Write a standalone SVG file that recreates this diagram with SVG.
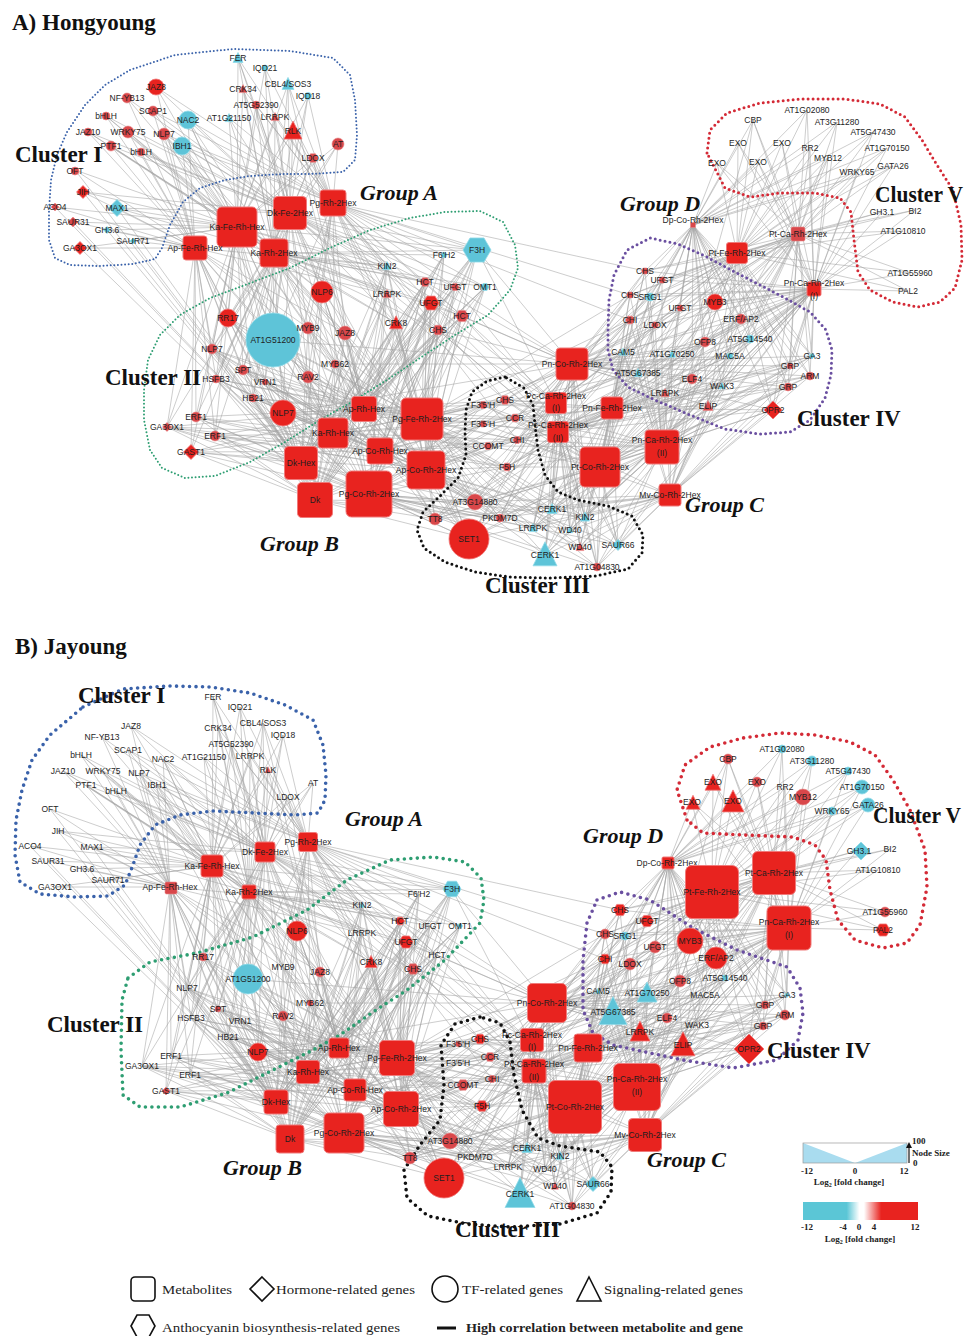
<svg xmlns="http://www.w3.org/2000/svg" xmlns:xlink="http://www.w3.org/1999/xlink" width="965" height="1336" viewBox="0 0 965 1336">
<style>
.e{fill:none;stroke:#a4a4a4;stroke-width:.55}
.m{fill:#e8231f;stroke:#f07a7a;stroke-width:1}
.r{fill:#e8231f;stroke:#f07a7a;stroke-width:.8}
.p{fill:#d9474a;stroke:#e98a8a;stroke-width:.6}
.b{fill:#5ec4d8;stroke:#93dbe8;stroke-width:.8}
.t{font-family:"Liberation Sans",Arial,sans-serif;font-size:8.5px;fill:#1e1e1e;text-anchor:middle}
.cl{font-family:"Liberation Serif","Times New Roman",serif;font-weight:bold;font-size:23px;fill:#111}
.gr{font-family:"Liberation Serif","Times New Roman",serif;font-style:italic;font-weight:bold;font-size:22px;fill:#111}
.ti{font-family:"Liberation Serif","Times New Roman",serif;font-weight:bold;font-size:23px;fill:#111}
.lg{font-family:"Liberation Serif","Times New Roman",serif;font-size:13px;fill:#222}
.ls{font-family:"Liberation Serif","Times New Roman",serif;font-weight:bold;font-size:9px;fill:#222}
.o{fill:none;stroke-linecap:round;stroke-linejoin:round}
.ob{stroke:#3a62aa}.og{stroke:#2e9e72}.ok{stroke:#111}.op{stroke:#6a4fa0}.or{stroke:#d42a36}
.thin{stroke-width:2;stroke-dasharray:0 3.6}
.med{stroke-width:3;stroke-dasharray:0 5}
.thick{stroke-width:3.6;stroke-dasharray:0 6.5}
</style>
<defs>
<path id="tri" d="M0-.55L.5.45H-.5Z" vector-effect="non-scaling-stroke"/>
<path id="dia" d="M0-.5L.5 0 0 .5-.5 0Z" vector-effect="non-scaling-stroke"/>
<path id="hex" d="M-.5 0-.25-.43H.25L.5 0 .25.43H-.25Z" vector-effect="non-scaling-stroke"/>
<rect id="sq" x="-.5" y="-.5" width="1" height="1" rx=".12" vector-effect="non-scaling-stroke"/>
<linearGradient id="cbar" x1="0" x2="1" y1="0" y2="0">
<stop offset="0" stop-color="#5bc6d6"/><stop offset=".38" stop-color="#5bc6d6"/><stop offset=".49" stop-color="#ffffff"/><stop offset=".53" stop-color="#ffffff"/><stop offset=".68" stop-color="#e8231f"/><stop offset="1" stop-color="#e8231f"/>
</linearGradient>
<marker id="arr" viewBox="0 0 6 6" refX="3" refY="3" markerWidth="5" markerHeight="5" orient="auto"><path d="M0 0L6 3 0 6Z" fill="#111"/></marker>
</defs>
<rect width="965" height="1336" fill="#fff"/>

<g id="connectors" class="e">
<g id="edgesA">
<path d="M237 227 238 58M237 227 265 68M237 227 288 84M237 227 243 89M237 227 308 96M237 227 256 105M237 227 275 117M237 227 293 131M237 227 338 144M237 227 313 158M237 227 229 118M237 227 188 120M237 227 182 146M237 227 156 87M237 227 127 98M237 227 153 111M237 227 106 116M237 227 88 132M237 227 128 132M237 227 164 134M237 227 111 146M237 227 141 152M237 227 75 170M237 227 83 192M237 227 55 207M237 227 117 208M237 227 73 222M237 227 107 230M237 227 133 241M237 227 80 248M237 227 322 292M237 227 228 318M237 227 273 340M237 227 308 328M237 227 345 333M237 227 212 349M237 227 335 364M237 227 243 370M237 227 308 377M237 227 216 379M237 227 265 382M237 227 253 398M237 227 283 413M237 227 196 417M237 227 167 427M237 227 215 436M237 227 191 452M237 227 477 250M237 227 387 266M237 227 425 282M237 227 387 294M237 227 396 323"/>
<path d="M290 213 238 58M290 213 265 68M290 213 288 84M290 213 243 89M290 213 308 96M290 213 256 105M290 213 275 117M290 213 293 131M290 213 338 144M290 213 313 158M290 213 229 118M290 213 188 120M290 213 182 146M290 213 156 87M290 213 127 98M290 213 153 111M290 213 106 116M290 213 88 132M290 213 128 132M290 213 164 134M290 213 111 146M290 213 141 152M290 213 83 192M290 213 117 208M290 213 477 250M290 213 444 255M290 213 387 266M290 213 425 282M290 213 455 287M290 213 485 287M290 213 387 294M290 213 431 303M290 213 462 316M290 213 396 323M290 213 438 330M290 213 322 292M290 213 228 318M290 213 273 340M290 213 308 328M290 213 345 333M290 213 212 349M290 213 335 364M290 213 243 370M290 213 308 377M290 213 216 379M290 213 265 382M290 213 253 398M290 213 283 413M290 213 505 400M290 213 469 539"/>
<path d="M333 203 238 58M333 203 265 68M333 203 288 84M333 203 243 89M333 203 308 96M333 203 256 105M333 203 275 117M333 203 293 131M333 203 338 144M333 203 313 158M333 203 229 118M333 203 188 120M333 203 182 146M333 203 156 87M333 203 153 111M333 203 164 134M333 203 477 250M333 203 444 255M333 203 387 266M333 203 425 282M333 203 455 287M333 203 485 287M333 203 387 294M333 203 431 303M333 203 462 316M333 203 396 323M333 203 438 330M333 203 322 292M333 203 273 340M333 203 308 328M333 203 345 333M333 203 335 364M333 203 308 377M333 203 283 413M333 203 505 400M333 203 517 440M333 203 475 502M333 203 469 539M333 203 645 271M333 203 630 295M333 203 630 320"/>
<path d="M195 248 188 120M195 248 182 146M195 248 156 87M195 248 127 98M195 248 153 111M195 248 106 116M195 248 88 132M195 248 128 132M195 248 164 134M195 248 111 146M195 248 141 152M195 248 75 170M195 248 83 192M195 248 55 207M195 248 117 208M195 248 73 222M195 248 107 230M195 248 133 241M195 248 80 248M195 248 228 318M195 248 273 340M195 248 308 328M195 248 345 333M195 248 212 349M195 248 335 364M195 248 243 370M195 248 308 377M195 248 216 379M195 248 265 382M195 248 253 398M195 248 283 413M195 248 196 417M195 248 167 427M195 248 215 436M195 248 191 452M195 248 387 266M195 248 387 294"/>
<path d="M274 253 238 58M274 253 265 68M274 253 288 84M274 253 243 89M274 253 308 96M274 253 256 105M274 253 275 117M274 253 293 131M274 253 338 144M274 253 313 158M274 253 229 118M274 253 188 120M274 253 182 146M274 253 106 116M274 253 88 132M274 253 128 132M274 253 164 134M274 253 111 146M274 253 141 152M274 253 117 208M274 253 477 250M274 253 444 255M274 253 387 266M274 253 425 282M274 253 455 287M274 253 485 287M274 253 387 294M274 253 431 303M274 253 462 316M274 253 396 323M274 253 438 330M274 253 322 292M274 253 228 318M274 253 273 340M274 253 308 328M274 253 345 333M274 253 212 349M274 253 335 364M274 253 243 370M274 253 308 377M274 253 216 379M274 253 265 382M274 253 253 398M274 253 283 413M274 253 196 417M274 253 167 427M274 253 215 436M274 253 191 452M274 253 475 502M274 253 435 519M274 253 500 518M274 253 469 539"/>
<path d="M364 409 477 250M364 409 444 255M364 409 387 266M364 409 425 282M364 409 455 287M364 409 485 287M364 409 387 294M364 409 431 303M364 409 462 316M364 409 396 323M364 409 438 330M364 409 322 292M364 409 228 318M364 409 273 340M364 409 308 328M364 409 345 333M364 409 212 349M364 409 335 364M364 409 243 370M364 409 308 377M364 409 216 379M364 409 265 382M364 409 253 398M364 409 283 413M364 409 196 417M364 409 167 427M364 409 215 436M364 409 191 452M364 409 483 405M364 409 505 400M364 409 483 424M364 409 515 418M364 409 517 440M364 409 488 446M364 409 507 467M364 409 475 502M364 409 435 519M364 409 500 518M364 409 469 539M364 409 238 58M364 409 288 84M364 409 293 131M364 409 313 158"/>
<path d="M422 419 477 250M422 419 444 255M422 419 387 266M422 419 425 282M422 419 455 287M422 419 485 287M422 419 387 294M422 419 431 303M422 419 462 316M422 419 396 323M422 419 438 330M422 419 322 292M422 419 228 318M422 419 273 340M422 419 308 328M422 419 345 333M422 419 212 349M422 419 335 364M422 419 243 370M422 419 308 377M422 419 216 379M422 419 265 382M422 419 253 398M422 419 283 413M422 419 483 405M422 419 505 400M422 419 483 424M422 419 515 418M422 419 517 440M422 419 488 446M422 419 507 467M422 419 475 502M422 419 435 519M422 419 500 518M422 419 469 539M422 419 552 509M422 419 585 517M422 419 533 528M422 419 570 530M422 419 580 547M422 419 545 555M422 419 618 545M422 419 597 567M422 419 630 295M422 419 630 320M422 419 623 352M422 419 638 373"/>
<path d="M333 433 228 318M333 433 273 340M333 433 308 328M333 433 345 333M333 433 212 349M333 433 335 364M333 433 243 370M333 433 308 377M333 433 216 379M333 433 265 382M333 433 253 398M333 433 283 413M333 433 196 417M333 433 167 427M333 433 215 436M333 433 191 452M333 433 477 250M333 433 444 255M333 433 387 266M333 433 425 282M333 433 455 287M333 433 485 287M333 433 387 294M333 433 431 303M333 433 462 316M333 433 396 323M333 433 438 330M333 433 483 405M333 433 505 400M333 433 483 424M333 433 515 418M333 433 517 440M333 433 488 446M333 433 507 467M333 433 475 502M333 433 188 120M333 433 182 146M333 433 164 134"/>
<path d="M380 451 322 292M380 451 228 318M380 451 273 340M380 451 308 328M380 451 345 333M380 451 212 349M380 451 335 364M380 451 243 370M380 451 308 377M380 451 216 379M380 451 265 382M380 451 253 398M380 451 283 413M380 451 196 417M380 451 167 427M380 451 215 436M380 451 191 452M380 451 483 405M380 451 505 400M380 451 483 424M380 451 515 418M380 451 517 440M380 451 488 446M380 451 507 467M380 451 475 502M380 451 435 519M380 451 500 518M380 451 469 539M380 451 477 250M380 451 425 282M380 451 431 303M380 451 438 330"/>
<path d="M301 463 322 292M301 463 228 318M301 463 273 340M301 463 308 328M301 463 345 333M301 463 212 349M301 463 335 364M301 463 243 370M301 463 308 377M301 463 216 379M301 463 265 382M301 463 253 398M301 463 283 413M301 463 196 417M301 463 167 427M301 463 215 436M301 463 191 452M301 463 477 250M301 463 444 255M301 463 387 266M301 463 425 282M301 463 455 287M301 463 485 287M301 463 387 294M301 463 431 303M301 463 462 316M301 463 396 323M301 463 438 330M301 463 475 502M301 463 435 519M301 463 500 518M301 463 469 539M301 463 75 170M301 463 83 192M301 463 55 207M301 463 117 208M301 463 73 222M301 463 107 230M301 463 133 241M301 463 80 248"/>
<path d="M426 470 477 250M426 470 444 255M426 470 387 266M426 470 425 282M426 470 455 287M426 470 485 287M426 470 387 294M426 470 431 303M426 470 462 316M426 470 396 323M426 470 438 330M426 470 273 340M426 470 308 328M426 470 345 333M426 470 212 349M426 470 335 364M426 470 243 370M426 470 308 377M426 470 216 379M426 470 265 382M426 470 253 398M426 470 283 413M426 470 196 417M426 470 167 427M426 470 215 436M426 470 191 452M426 470 483 405M426 470 505 400M426 470 483 424M426 470 515 418M426 470 517 440M426 470 488 446M426 470 507 467M426 470 475 502M426 470 435 519M426 470 500 518M426 470 469 539M426 470 552 509M426 470 585 517M426 470 533 528M426 470 570 530M426 470 580 547M426 470 545 555M426 470 618 545M426 470 597 567"/>
<path d="M315 500 322 292M315 500 228 318M315 500 273 340M315 500 308 328M315 500 345 333M315 500 212 349M315 500 335 364M315 500 243 370M315 500 308 377M315 500 216 379M315 500 265 382M315 500 253 398M315 500 283 413M315 500 196 417M315 500 167 427M315 500 215 436M315 500 191 452M315 500 477 250M315 500 444 255M315 500 387 266M315 500 425 282M315 500 455 287M315 500 485 287M315 500 387 294M315 500 431 303M315 500 462 316M315 500 396 323M315 500 438 330M315 500 475 502M315 500 435 519M315 500 500 518M315 500 469 539M315 500 483 405M315 500 483 424M315 500 488 446"/>
<path d="M369 494 322 292M369 494 228 318M369 494 273 340M369 494 308 328M369 494 345 333M369 494 212 349M369 494 335 364M369 494 243 370M369 494 308 377M369 494 216 379M369 494 265 382M369 494 253 398M369 494 283 413M369 494 196 417M369 494 167 427M369 494 215 436M369 494 191 452M369 494 477 250M369 494 444 255M369 494 387 266M369 494 425 282M369 494 455 287M369 494 485 287M369 494 387 294M369 494 431 303M369 494 462 316M369 494 396 323M369 494 438 330M369 494 483 405M369 494 505 400M369 494 483 424M369 494 515 418M369 494 517 440M369 494 488 446M369 494 507 467M369 494 475 502M369 494 435 519M369 494 500 518M369 494 469 539M369 494 552 509M369 494 585 517M369 494 533 528M369 494 570 530M369 494 580 547M369 494 545 555M369 494 618 545M369 494 597 567"/>
<path d="M572 364 477 250M572 364 425 282M572 364 455 287M572 364 431 303M572 364 462 316M572 364 438 330M572 364 483 405M572 364 505 400M572 364 483 424M572 364 515 418M572 364 517 440M572 364 488 446M572 364 507 467M572 364 475 502M572 364 435 519M572 364 500 518M572 364 469 539M572 364 552 509M572 364 585 517M572 364 533 528M572 364 570 530M572 364 580 547M572 364 545 555M572 364 618 545M572 364 597 567M572 364 645 271M572 364 662 280M572 364 630 295M572 364 650 297M572 364 680 308M572 364 715 302M572 364 630 320M572 364 655 325M572 364 741 319M572 364 705 342M572 364 750 339M572 364 623 352M572 364 672 354M572 364 730 356M572 364 812 356M572 364 790 366M572 364 810 376M572 364 638 373M572 364 692 379M572 364 722 386M572 364 788 387M572 364 665 393M572 364 708 406M572 364 773 410M572 364 273 340M572 364 335 364M572 364 283 413"/>
<path d="M556 403 483 405M556 403 505 400M556 403 483 424M556 403 515 418M556 403 517 440M556 403 488 446M556 403 507 467M556 403 475 502M556 403 435 519M556 403 500 518M556 403 469 539M556 403 552 509M556 403 585 517M556 403 533 528M556 403 570 530M556 403 580 547M556 403 545 555M556 403 618 545M556 403 597 567M556 403 645 271M556 403 662 280M556 403 630 295M556 403 650 297M556 403 680 308M556 403 715 302M556 403 630 320M556 403 655 325M556 403 741 319M556 403 705 342M556 403 750 339M556 403 623 352M556 403 672 354M556 403 477 250M556 403 425 282M556 403 431 303M556 403 438 330"/>
<path d="M558 432 483 405M558 432 505 400M558 432 483 424M558 432 515 418M558 432 517 440M558 432 488 446M558 432 507 467M558 432 475 502M558 432 435 519M558 432 500 518M558 432 469 539M558 432 552 509M558 432 585 517M558 432 533 528M558 432 570 530M558 432 580 547M558 432 545 555M558 432 618 545M558 432 597 567M558 432 630 320M558 432 655 325M558 432 741 319M558 432 705 342M558 432 750 339M558 432 623 352M558 432 672 354M558 432 730 356M558 432 812 356M558 432 790 366M558 432 810 376M558 432 638 373M558 432 692 379M558 432 722 386M558 432 788 387M558 432 665 393M558 432 708 406M558 432 773 410M558 432 431 303M558 432 438 330"/>
<path d="M612 408 483 405M612 408 505 400M612 408 483 424M612 408 515 418M612 408 517 440M612 408 488 446M612 408 507 467M612 408 475 502M612 408 435 519M612 408 500 518M612 408 469 539M612 408 552 509M612 408 585 517M612 408 533 528M612 408 570 530M612 408 580 547M612 408 545 555M612 408 618 545M612 408 597 567M612 408 645 271M612 408 662 280M612 408 630 295M612 408 650 297M612 408 680 308M612 408 715 302M612 408 630 320M612 408 655 325M612 408 741 319M612 408 705 342M612 408 750 339M612 408 623 352M612 408 672 354M612 408 730 356M612 408 812 356M612 408 790 366M612 408 810 376M612 408 638 373M612 408 692 379M612 408 722 386M612 408 788 387M612 408 665 393M612 408 708 406M612 408 773 410"/>
<path d="M600 467 483 405M600 467 505 400M600 467 483 424M600 467 515 418M600 467 517 440M600 467 488 446M600 467 507 467M600 467 475 502M600 467 435 519M600 467 500 518M600 467 469 539M600 467 552 509M600 467 585 517M600 467 533 528M600 467 570 530M600 467 580 547M600 467 545 555M600 467 618 545M600 467 597 567M600 467 645 271M600 467 662 280M600 467 630 295M600 467 650 297M600 467 680 308M600 467 715 302M600 467 630 320M600 467 655 325M600 467 741 319M600 467 705 342M600 467 750 339M600 467 623 352M600 467 672 354M600 467 730 356M600 467 812 356M600 467 790 366M600 467 810 376M600 467 638 373M600 467 692 379M600 467 722 386M600 467 788 387M600 467 665 393M600 467 708 406M600 467 773 410M600 467 455 287M600 467 462 316M600 467 438 330"/>
<path d="M662 447 505 400M662 447 483 424M662 447 515 418M662 447 517 440M662 447 488 446M662 447 507 467M662 447 475 502M662 447 435 519M662 447 500 518M662 447 469 539M662 447 552 509M662 447 585 517M662 447 533 528M662 447 570 530M662 447 580 547M662 447 545 555M662 447 618 545M662 447 597 567M662 447 645 271M662 447 662 280M662 447 630 295M662 447 650 297M662 447 680 308M662 447 715 302M662 447 630 320M662 447 655 325M662 447 741 319M662 447 705 342M662 447 750 339M662 447 623 352M662 447 672 354M662 447 730 356M662 447 812 356M662 447 790 366M662 447 810 376M662 447 638 373M662 447 692 379M662 447 722 386M662 447 788 387M662 447 665 393M662 447 708 406M662 447 773 410M662 447 753 120M662 447 828 158"/>
<path d="M670 495 475 502M670 495 435 519M670 495 500 518M670 495 469 539M670 495 552 509M670 495 585 517M670 495 533 528M670 495 570 530M670 495 580 547M670 495 545 555M670 495 618 545M670 495 597 567M670 495 741 319M670 495 705 342M670 495 750 339M670 495 623 352M670 495 672 354M670 495 730 356M670 495 812 356M670 495 790 366M670 495 810 376M670 495 638 373M670 495 692 379M670 495 722 386M670 495 788 387M670 495 665 393M670 495 708 406M670 495 773 410M670 495 483 405M670 495 517 440"/>
<path d="M693 225 807 110M693 225 753 120M693 225 837 122M693 225 873 132M693 225 738 143M693 225 782 143M693 225 810 148M693 225 887 148M693 225 828 158M693 225 717 163M693 225 758 162M693 225 893 166M693 225 857 172M693 225 645 271M693 225 662 280M693 225 630 295M693 225 650 297M693 225 680 308M693 225 715 302M693 225 630 320M693 225 655 325M693 225 741 319M693 225 705 342M693 225 750 339M693 225 623 352M693 225 672 354M693 225 730 356M693 225 812 356M693 225 790 366M693 225 810 376M693 225 638 373M693 225 692 379M693 225 722 386M693 225 788 387M693 225 665 393M693 225 708 406M693 225 773 410"/>
<path d="M737 253 807 110M737 253 753 120M737 253 837 122M737 253 873 132M737 253 738 143M737 253 782 143M737 253 810 148M737 253 887 148M737 253 828 158M737 253 717 163M737 253 758 162M737 253 893 166M737 253 857 172M737 253 882 212M737 253 915 210M737 253 903 231M737 253 910 273M737 253 908 291M737 253 645 271M737 253 662 280M737 253 630 295M737 253 650 297M737 253 680 308M737 253 715 302M737 253 630 320M737 253 655 325M737 253 741 319M737 253 705 342M737 253 750 339M737 253 623 352M737 253 672 354M737 253 730 356M737 253 812 356M737 253 790 366M737 253 810 376M737 253 638 373M737 253 692 379M737 253 722 386M737 253 788 387M737 253 665 393M737 253 708 406M737 253 773 410M737 253 505 400M737 253 515 418"/>
<path d="M798 234 807 110M798 234 753 120M798 234 837 122M798 234 873 132M798 234 738 143M798 234 782 143M798 234 810 148M798 234 887 148M798 234 828 158M798 234 717 163M798 234 758 162M798 234 893 166M798 234 857 172M798 234 882 212M798 234 915 210M798 234 903 231M798 234 910 273M798 234 908 291M798 234 645 271M798 234 662 280M798 234 630 295M798 234 650 297M798 234 680 308M798 234 715 302M798 234 630 320M798 234 655 325M798 234 741 319M798 234 705 342M798 234 750 339M798 234 623 352M798 234 672 354M798 234 730 356M798 234 812 356M798 234 790 366M798 234 810 376M798 234 638 373M798 234 692 379M798 234 722 386M798 234 788 387M798 234 665 393M798 234 708 406M798 234 773 410"/>
<path d="M814 289 807 110M814 289 753 120M814 289 837 122M814 289 873 132M814 289 738 143M814 289 782 143M814 289 810 148M814 289 887 148M814 289 828 158M814 289 717 163M814 289 758 162M814 289 893 166M814 289 857 172M814 289 882 212M814 289 915 210M814 289 903 231M814 289 910 273M814 289 908 291M814 289 645 271M814 289 662 280M814 289 630 295M814 289 650 297M814 289 680 308M814 289 715 302M814 289 630 320M814 289 655 325M814 289 741 319M814 289 705 342M814 289 750 339M814 289 623 352M814 289 672 354M814 289 730 356M814 289 812 356M814 289 790 366M814 289 810 376M814 289 638 373M814 289 692 379M814 289 722 386M814 289 788 387M814 289 665 393M814 289 708 406M814 289 773 410M814 289 517 440M814 289 507 467M814 289 552 509M814 289 585 517M814 289 533 528M814 289 570 530M814 289 580 547M814 289 545 555M814 289 618 545M814 289 597 567"/>
</g>
<use href="#edgesA" xlink:href="#edgesA" transform="translate(-25 639)"/>
</g>

<g id="outlines">
<polygon class="o ob thin" points="130,70 175,55 233,49 290,51 333,58 350,75 355,100 357,135 355,160 343,172 310,174 283,174 250,176 225,180 200,188 183,202 170,225 162,248 155,259 133,264 100,266 70,265 55,258 49,240 49,210 51,180 57,155 67,132 85,105 105,85"/>
<polygon class="o og thin" points="150,450 144,420 144,390 148,360 160,335 180,315 210,298 245,285 290,268 330,248 370,230 410,218 445,212 480,211 503,222 515,245 518,268 510,290 488,315 455,335 420,358 390,378 355,400 320,420 285,442 250,462 215,476 185,478 162,468"/>
<polygon class="o ok med" points="505,377 487,381 472,392 466,410 465,432 466,455 458,478 440,496 423,512 417,530 424,548 445,562 475,572 510,577 550,578 595,576 628,569 642,553 643,535 632,516 608,506 578,500 558,492 545,475 538,450 535,425 533,405 524,388"/>
<polygon class="o op med" points="608,330 609,300 614,275 627,250 650,238 678,244 705,256 733,271 760,285 785,298 810,312 826,330 832,350 831,375 825,398 810,420 790,432 760,434 725,429 690,415 655,400 628,387 613,370 608,350"/>
<polygon class="o or med" points="707,153 710,130 727,113 760,103 800,99 845,99 880,104 905,117 922,140 937,165 953,190 961,225 962,260 955,288 940,302 918,307 893,302 870,290 858,272 854,240 851,212 840,198 815,193 780,193 750,197 725,188"/>
<polygon class="o ob thick" points="83,707 123,689 170,686 210,687 250,693 285,705 313,720 323,745 326,775 325,800 318,813 295,815 255,813 213,811 180,815 155,825 140,845 133,865 125,885 108,896 75,897 40,894 20,882 15,855 16,820 22,790 32,760 50,735"/>
<polygon class="o og thick" points="128,978 150,962 197,953 253,937 307,910 347,880 390,860 433,857 465,862 481,878 484,900 480,923 445,960 407,990 373,1012 340,1035 313,1050 273,1070 227,1093 180,1107 140,1107 123,1095 121,1050 122,1000"/>
<polygon class="o ok thick" points="480,1017 455,1024 441,1045 444,1085 440,1120 420,1145 404,1170 407,1198 428,1216 467,1224 510,1227 560,1224 597,1213 611,1192 612,1167 600,1152 560,1146 538,1138 522,1110 514,1075 510,1042 500,1023"/>
<polygon class="o op thick" points="597,900 620,892 650,900 693,928 737,950 787,967 800,988 803,1013 798,1040 777,1060 733,1068 683,1060 650,1053 613,1045 593,1033 583,1010 583,960 587,923"/>
<polygon class="o or thick" points="687,820 677,790 685,765 710,747 743,738 780,733 815,735 850,742 875,755 893,780 910,810 925,850 927,887 920,925 907,943 883,948 855,940 838,920 830,890 826,860 815,845 793,837 743,835 703,833"/>
</g>

<g id="panelA" class="t">
<g id="a-FER"><use href="#tri" class="b" transform="translate(238 58) scale(10)"/><text x="238" y="61">FER</text></g>
<g id="a-IQD21"><circle class="b" cx="265" cy="68" r="3"/><text x="265" y="71">IQD21</text></g>
<g id="a-CBL4SOS3"><use href="#tri" class="b" transform="translate(288 84) scale(12)"/><text x="288" y="87">CBL4/SOS3</text></g>
<g id="a-CRK34"><use href="#tri" class="p" transform="translate(243 89) scale(8)"/><text x="243" y="92">CRK34</text></g>
<g id="a-IQD18"><circle class="b" cx="308" cy="96" r="3.5"/><text x="308" y="99">IQD18</text></g>
<g id="a-AT5G52390"><circle class="p" cx="256" cy="105" r="4"/><text x="256" y="108">AT5G52390</text></g>
<g id="a-LRRPK-1"><use href="#tri" class="p" transform="translate(275 117) scale(8)"/><text x="275" y="120">LRRPK</text></g>
<g id="a-RLK"><use href="#tri" class="r" transform="translate(293 131) scale(18)"/><text x="293" y="134">RLK</text></g>
<g id="a-AT"><circle class="p" cx="338" cy="144" r="6"/><text x="338" y="147">AT</text></g>
<g id="a-LDOX-1"><use href="#hex" class="p" transform="translate(313 158) scale(10)"/><text x="313" y="161">LDOX</text></g>
<g id="a-AT1G21150"><use href="#tri" class="b" transform="translate(229 118) scale(8)"/><text x="229" y="121">AT1G21150</text></g>
<g id="a-NAC2"><circle class="b" cx="188" cy="120" r="9"/><text x="188" y="123">NAC2</text></g>
<g id="a-IBH1"><circle class="b" cx="182" cy="146" r="9"/><text x="182" y="149">IBH1</text></g>
<g id="a-JAZ8-1"><circle class="r" cx="156" cy="87" r="8"/><text x="156" y="90">JAZ8</text></g>
<g id="a-NFYB13"><circle class="p" cx="127" cy="98" r="5"/><text x="127" y="101">NF-YB13</text></g>
<g id="a-SCAP1"><circle class="p" cx="153" cy="111" r="5"/><text x="153" y="114">SCAP1</text></g>
<g id="a-bHLH-1"><circle class="p" cx="106" cy="116" r="4"/><text x="106" y="119">bHLH</text></g>
<g id="a-JAZ10"><circle class="p" cx="88" cy="132" r="4"/><text x="88" y="135">JAZ10</text></g>
<g id="a-WRKY75"><circle class="p" cx="128" cy="132" r="6"/><text x="128" y="135">WRKY75</text></g>
<g id="a-NLP7-1"><circle class="p" cx="164" cy="134" r="6"/><text x="164" y="137">NLP7</text></g>
<g id="a-PTF1"><circle class="p" cx="111" cy="146" r="5"/><text x="111" y="149">PTF1</text></g>
<g id="a-bHLH-2"><circle class="p" cx="141" cy="152" r="4"/><text x="141" y="155">bHLH</text></g>
<g id="a-OFT"><circle class="p" cx="75" cy="171" r="4"/><text x="75" y="174">OFT</text></g>
<g id="a-JIH"><use href="#dia" class="r" transform="translate(83 192) scale(13)"/><text x="83" y="195">JIH</text></g>
<g id="a-ACO4"><use href="#dia" class="p" transform="translate(55 207) scale(8)"/><text x="55" y="210">ACO4</text></g>
<g id="a-MAX1"><use href="#dia" class="b" transform="translate(117 208) scale(17)"/><text x="117" y="211">MAX1</text></g>
<g id="a-SAUR31"><use href="#dia" class="p" transform="translate(73 222) scale(10)"/><text x="73" y="225">SAUR31</text></g>
<g id="a-GH36"><use href="#dia" class="b" transform="translate(107 230) scale(7)"/><text x="107" y="233">GH3.6</text></g>
<g id="a-SAUR71"><use href="#dia" class="b" transform="translate(133 241) scale(6)"/><text x="133" y="244">SAUR71</text></g>
<g id="a-GA3OX1-1"><use href="#dia" class="r" transform="translate(80 248) scale(13)"/><text x="80" y="251">GA3OX1</text></g>
<g id="a-F3H"><use href="#hex" class="b" transform="translate(477 250) scale(28)"/><text x="477" y="253">F3H</text></g>
<g id="a-F6H2"><use href="#hex" class="b" transform="translate(444 255) scale(6)"/><text x="444" y="258">F6'H2</text></g>
<g id="a-KIN2-1"><use href="#tri" class="b" transform="translate(387 266) scale(8)"/><text x="387" y="269">KIN2</text></g>
<g id="a-HCT-1"><use href="#hex" class="p" transform="translate(425 282) scale(10)"/><text x="425" y="285">HCT</text></g>
<g id="a-UFGT-1"><use href="#hex" class="p" transform="translate(455 287) scale(8)"/><text x="455" y="290">UFGT</text></g>
<g id="a-OMT1"><use href="#hex" class="b" transform="translate(485 287) scale(8)"/><text x="485" y="290">OMT1</text></g>
<g id="a-LRRPK-2"><use href="#tri" class="p" transform="translate(387 294) scale(8)"/><text x="387" y="297">LRRPK</text></g>
<g id="a-UFGT-2"><use href="#hex" class="r" transform="translate(431 303) scale(16)"/><text x="431" y="306">UFGT</text></g>
<g id="a-HCT-2"><use href="#hex" class="p" transform="translate(462 316) scale(13)"/><text x="462" y="319">HCT</text></g>
<g id="a-CRK8"><use href="#tri" class="r" transform="translate(396 323) scale(13)"/><text x="396" y="326">CRK8</text></g>
<g id="a-CHS-1"><use href="#hex" class="p" transform="translate(438 330) scale(11)"/><text x="438" y="333">CHS</text></g>
<g id="a-NLP6"><circle class="r" cx="322" cy="292" r="11"/><text x="322" y="295">NLP6</text></g>
<g id="a-RR17"><circle class="r" cx="228" cy="318" r="9"/><text x="228" y="321">RR17</text></g>
<g id="a-AT1G51200"><circle class="b" cx="273" cy="340" r="27"/><text x="273" y="343">AT1G51200</text></g>
<g id="a-MYB9"><circle class="p" cx="308" cy="328" r="6"/><text x="308" y="331">MYB9</text></g>
<g id="a-JAZ8-2"><circle class="p" cx="345" cy="333" r="7"/><text x="345" y="336">JAZ8</text></g>
<g id="a-NLP7-2"><circle class="p" cx="212" cy="349" r="5"/><text x="212" y="352">NLP7</text></g>
<g id="a-MYB62"><circle class="p" cx="335" cy="364" r="4"/><text x="335" y="367">MYB62</text></g>
<g id="a-SPT"><circle class="p" cx="243" cy="370" r="5"/><text x="243" y="373">SPT</text></g>
<g id="a-RAV2"><circle class="p" cx="308" cy="377" r="6"/><text x="308" y="380">RAV2</text></g>
<g id="a-HSFB3"><circle class="p" cx="216" cy="379" r="4"/><text x="216" y="382">HSFB3</text></g>
<g id="a-VRN1"><circle class="p" cx="265" cy="382" r="3"/><text x="265" y="385">VRN1</text></g>
<g id="a-HB21"><circle class="p" cx="253" cy="398" r="4"/><text x="253" y="401">HB21</text></g>
<g id="a-NLP7-3"><circle class="r" cx="283" cy="413" r="13"/><text x="283" y="416">NLP7</text></g>
<g id="a-ERF1-1"><circle class="p" cx="196" cy="417" r="5"/><text x="196" y="420">ERF1</text></g>
<g id="a-GA3OX1-2"><use href="#dia" class="p" transform="translate(167 427) scale(9)"/><text x="167" y="430">GA3OX1</text></g>
<g id="a-ERF1-2"><circle class="p" cx="215" cy="436" r="5"/><text x="215" y="439">ERF1</text></g>
<g id="a-GAST1"><use href="#dia" class="r" transform="translate(191 452) scale(15)"/><text x="191" y="455">GAST1</text></g>
<g id="a-F35H-1"><use href="#hex" class="p" transform="translate(483 405) scale(8)"/><text x="483" y="408">F3'5'H</text></g>
<g id="a-CHS-2"><use href="#hex" class="p" transform="translate(505 400) scale(10)"/><text x="505" y="403">CHS</text></g>
<g id="a-F35H-2"><use href="#hex" class="p" transform="translate(483 424) scale(7)"/><text x="483" y="427">F3'5'H</text></g>
<g id="a-CCR"><use href="#hex" class="p" transform="translate(515 418) scale(9)"/><text x="515" y="421">CCR</text></g>
<g id="a-CHI-1"><use href="#hex" class="p" transform="translate(517 440) scale(8)"/><text x="517" y="443">CHI</text></g>
<g id="a-CCOMT"><use href="#hex" class="p" transform="translate(488 446) scale(8)"/><text x="488" y="449">CCOMT</text></g>
<g id="a-F5H"><use href="#hex" class="p" transform="translate(507 467) scale(9)"/><text x="507" y="470">F5H</text></g>
<g id="a-AT3G14880"><circle class="p" cx="475" cy="502" r="8"/><text x="475" y="505">AT3G14880</text></g>
<g id="a-TT8"><circle class="p" cx="435" cy="519" r="6"/><text x="435" y="522">TT8</text></g>
<g id="a-PKDM7D"><circle class="p" cx="500" cy="518" r="4"/><text x="500" y="521">PKDM7D</text></g>
<g id="a-SET1"><circle class="r" cx="469" cy="539" r="20"/><text x="469" y="542">SET1</text></g>
<g id="a-CERK1-1"><use href="#tri" class="b" transform="translate(552 509) scale(10)"/><text x="552" y="512">CERK1</text></g>
<g id="a-KIN2-2"><use href="#tri" class="b" transform="translate(585 517) scale(9)"/><text x="585" y="520">KIN2</text></g>
<g id="a-LRRPK-3"><use href="#tri" class="b" transform="translate(533 528) scale(8)"/><text x="533" y="531">LRRPK</text></g>
<g id="a-WD40-1"><use href="#tri" class="b" transform="translate(570 530) scale(6)"/><text x="570" y="533">WD40</text></g>
<g id="a-WD40-2"><use href="#tri" class="p" transform="translate(580 547) scale(8)"/><text x="580" y="550">WD40</text></g>
<g id="a-CERK1-2"><use href="#tri" class="b" transform="translate(545 555) scale(24)"/><text x="545" y="558">CERK1</text></g>
<g id="a-SAUR66"><use href="#dia" class="b" transform="translate(618 545) scale(11)"/><text x="618" y="548">SAUR66</text></g>
<g id="a-AT1G04830"><circle class="p" cx="597" cy="567" r="4"/><text x="597" y="570">AT1G04830</text></g>
<g id="a-CHS-3"><use href="#hex" class="p" transform="translate(645 271) scale(7)"/><text x="645" y="274">CHS</text></g>
<g id="a-UFGT-3"><use href="#hex" class="p" transform="translate(662 280) scale(7)"/><text x="662" y="283">UFGT</text></g>
<g id="a-CHS-4"><use href="#hex" class="p" transform="translate(630 295) scale(7)"/><text x="630" y="298">CHS</text></g>
<g id="a-SRG1"><circle class="b" cx="650" cy="297" r="4"/><text x="650" y="300">SRG1</text></g>
<g id="a-UFGT-4"><use href="#hex" class="p" transform="translate(680 308) scale(7)"/><text x="680" y="311">UFGT</text></g>
<g id="a-MYB3"><circle class="r" cx="715" cy="302" r="8"/><text x="715" y="305">MYB3</text></g>
<g id="a-CHI-2"><use href="#hex" class="p" transform="translate(630 320) scale(9)"/><text x="630" y="323">CHI</text></g>
<g id="a-LDOX-2"><use href="#hex" class="p" transform="translate(655 325) scale(7)"/><text x="655" y="328">LDOX</text></g>
<g id="a-ERFAP2"><circle class="p" cx="741" cy="319" r="5"/><text x="741" y="322">ERF/AP2</text></g>
<g id="a-OFP8"><circle class="p" cx="705" cy="342" r="5"/><text x="705" y="345">OFP8</text></g>
<g id="a-AT5G14540"><circle class="b" cx="750" cy="339" r="4"/><text x="750" y="342">AT5G14540</text></g>
<g id="a-CAM5"><use href="#tri" class="b" transform="translate(623 352) scale(7)"/><text x="623" y="355">CAM5</text></g>
<g id="a-AT1G70250"><use href="#tri" class="b" transform="translate(672 354) scale(7)"/><text x="672" y="357">AT1G70250</text></g>
<g id="a-MAC5A"><circle class="b" cx="730" cy="356" r="3"/><text x="730" y="359">MAC5A</text></g>
<g id="a-GA3"><use href="#dia" class="b" transform="translate(812 356) scale(6)"/><text x="812" y="359">GA3</text></g>
<g id="a-GRP-1"><circle class="p" cx="790" cy="366" r="3"/><text x="790" y="369">GRP</text></g>
<g id="a-ARM"><circle class="p" cx="810" cy="376" r="4"/><text x="810" y="379">ARM</text></g>
<g id="a-AT5G67385"><use href="#tri" class="b" transform="translate(638 373) scale(8)"/><text x="638" y="376">AT5G67385</text></g>
<g id="a-ELF4"><circle class="p" cx="692" cy="379" r="5"/><text x="692" y="382">ELF4</text></g>
<g id="a-WAK3"><use href="#tri" class="b" transform="translate(722 386) scale(6)"/><text x="722" y="389">WAK3</text></g>
<g id="a-GRP-2"><circle class="p" cx="788" cy="387" r="4"/><text x="788" y="390">GRP</text></g>
<g id="a-LRRPK-4"><use href="#tri" class="p" transform="translate(665 393) scale(8)"/><text x="665" y="396">LRRPK</text></g>
<g id="a-ELIP"><use href="#tri" class="p" transform="translate(708 406) scale(10)"/><text x="708" y="409">ELIP</text></g>
<g id="a-OPR2"><use href="#dia" class="r" transform="translate(773 410) scale(18)"/><text x="773" y="413">OPR2</text></g>
<g id="a-AT1G02080"><text x="807" y="113">AT1G02080</text></g>
<g id="a-CBP"><text x="753" y="123">CBP</text></g>
<g id="a-AT3G11280"><text x="837" y="125">AT3G11280</text></g>
<g id="a-AT5G47430"><text x="873" y="135">AT5G47430</text></g>
<g id="a-EXO-1"><text x="738" y="146">EXO</text></g>
<g id="a-EXO-2"><text x="782" y="146">EXO</text></g>
<g id="a-RR2"><text x="810" y="151">RR2</text></g>
<g id="a-AT1G70150"><text x="887" y="151">AT1G70150</text></g>
<g id="a-MYB12"><text x="828" y="161">MYB12</text></g>
<g id="a-EXO-3"><text x="717" y="166">EXO</text></g>
<g id="a-EXO-4"><text x="758" y="165">EXO</text></g>
<g id="a-GATA26"><text x="893" y="169">GATA26</text></g>
<g id="a-WRKY65"><text x="857" y="175">WRKY65</text></g>
<g id="a-GH31"><text x="882" y="215">GH3.1</text></g>
<g id="a-BI2"><text x="915" y="214">BI2</text></g>
<g id="a-AT1G10810"><text x="903" y="234">AT1G10810</text></g>
<g id="a-AT1G55960"><text x="910" y="276">AT1G55960</text></g>
<g id="a-PAL2"><text x="908" y="294">PAL2</text></g>
<g id="a-KaFeRhHex"><use href="#sq" class="m" transform="translate(237 227) scale(40)"/><text x="237" y="230">Ka-Fe-Rh-Hex</text></g>
<g id="a-DkFe2Hex"><use href="#sq" class="m" transform="translate(290 213) scale(33)"/><text x="290" y="216">Dk-Fe-2Hex</text></g>
<g id="a-PgRh2Hex"><use href="#sq" class="m" transform="translate(333 203) scale(26)"/><text x="333" y="206">Pg-Rh-2Hex</text></g>
<g id="a-ApFeRhHex"><use href="#sq" class="m" transform="translate(195 248) scale(24)"/><text x="195" y="251">Ap-Fe-Rh-Hex</text></g>
<g id="a-KaRh2Hex"><use href="#sq" class="m" transform="translate(274 253) scale(28)"/><text x="274" y="256">Ka-Rh-2Hex</text></g>
<g id="a-ApRhHex"><use href="#sq" class="m" transform="translate(364 409) scale(25)"/><text x="364" y="412">Ap-Rh-Hex</text></g>
<g id="a-PgFeRh2Hex"><use href="#sq" class="m" transform="translate(422 419) scale(42)"/><text x="422" y="422">Pg-Fe-Rh-2Hex</text></g>
<g id="a-KaRhHex"><use href="#sq" class="m" transform="translate(333 433) scale(30)"/><text x="333" y="436">Ka-Rh-Hex</text></g>
<g id="a-ApCoRhHex"><use href="#sq" class="m" transform="translate(380 451) scale(26)"/><text x="380" y="454">Ap-Co-Rh-Hex</text></g>
<g id="a-DkHex"><use href="#sq" class="m" transform="translate(301 463) scale(33)"/><text x="301" y="466">Dk-Hex</text></g>
<g id="a-ApCoRh2Hex"><use href="#sq" class="m" transform="translate(426 470) scale(38)"/><text x="426" y="473">Ap-Co-Rh-2Hex</text></g>
<g id="a-Dk"><use href="#sq" class="m" transform="translate(315 500) scale(35)"/><text x="315" y="503">Dk</text></g>
<g id="a-PgCoRh2Hex"><use href="#sq" class="m" transform="translate(369 494) scale(46)"/><text x="369" y="497">Pg-Co-Rh-2Hex</text></g>
<g id="a-PnCoRh2Hex"><use href="#sq" class="m" transform="translate(572 364) scale(32)"/><text x="572" y="367">Pn-Co-Rh-2Hex</text></g>
<g id="a-PcCaRh2Hex-I"><use href="#sq" class="m" transform="translate(556 403) scale(21)"/><text x="556" y="399">Pc-Ca-Rh-2Hex</text><text x="556" y="411">(I)</text></g>
<g id="a-PcCaRh2Hex-II"><use href="#sq" class="m" transform="translate(558 432) scale(21)"/><text x="558" y="428">Pc-Ca-Rh-2Hex</text><text x="558" y="441">(II)</text></g>
<g id="a-PnFeRh2Hex"><use href="#sq" class="m" transform="translate(612 408) scale(22)"/><text x="612" y="411">Pn-Fe-Rh-2Hex</text></g>
<g id="a-PtCoRh2Hex"><use href="#sq" class="m" transform="translate(600 467) scale(40)"/><text x="600" y="470">Pt-Co-Rh-2Hex</text></g>
<g id="a-PnCaRh2Hex-II"><use href="#sq" class="m" transform="translate(662 447) scale(34)"/><text x="662" y="443">Pn-Ca-Rh-2Hex</text><text x="662" y="456">(II)</text></g>
<g id="a-MvCoRh2Hex"><use href="#sq" class="m" transform="translate(670 495) scale(22)"/><text x="670" y="498">Mv-Co-Rh-2Hex</text></g>
<g id="a-DpCoRh2Hex"><use href="#sq" class="p" transform="translate(693 225) scale(5)"/><text x="693" y="223">Dp-Co-Rh-2Hex</text></g>
<g id="a-PtFeRh2Hex"><use href="#sq" class="m" transform="translate(737 253) scale(21)"/><text x="737" y="256">Pt-Fe-Rh-2Hex</text></g>
<g id="a-PtCaRh2Hex"><use href="#sq" class="p" transform="translate(798 234) scale(14)"/><text x="798" y="237">Pt-Ca-Rh-2Hex</text></g>
<g id="a-PnCaRh2Hex-I"><use href="#sq" class="m" transform="translate(814 289) scale(14)"/><text x="814" y="286">Pn-Ca-Rh-2Hex</text><text x="814" y="299">(I)</text></g>
</g>

<g id="panelB" class="t" transform="translate(-25 639)">
<g id="b-FER"><text x="238" y="61">FER</text></g>
<g id="b-IQD21"><text x="265" y="71">IQD21</text></g>
<g id="b-CBL4SOS3"><text x="288" y="87">CBL4/SOS3</text></g>
<g id="b-CRK34"><text x="243" y="92">CRK34</text></g>
<g id="b-IQD18"><text x="308" y="99">IQD18</text></g>
<g id="b-AT5G52390"><text x="256" y="108">AT5G52390</text></g>
<g id="b-LRRPK-1"><text x="275" y="120">LRRPK</text></g>
<g id="b-RLK"><use href="#tri" class="p" transform="translate(293 131) scale(6)"/><text x="293" y="134">RLK</text></g>
<g id="b-AT"><text x="338" y="147">AT</text></g>
<g id="b-LDOX-1"><text x="313" y="161">LDOX</text></g>
<g id="b-AT1G21150"><text x="229" y="121">AT1G21150</text></g>
<g id="b-NAC2"><text x="188" y="123">NAC2</text></g>
<g id="b-IBH1"><text x="182" y="149">IBH1</text></g>
<g id="b-JAZ8-1"><text x="156" y="90">JAZ8</text></g>
<g id="b-NFYB13"><text x="127" y="101">NF-YB13</text></g>
<g id="b-SCAP1"><text x="153" y="114">SCAP1</text></g>
<g id="b-bHLH-1"><text x="106" y="119">bHLH</text></g>
<g id="b-JAZ10"><text x="88" y="135">JAZ10</text></g>
<g id="b-WRKY75"><text x="128" y="135">WRKY75</text></g>
<g id="b-NLP7-1"><text x="164" y="137">NLP7</text></g>
<g id="b-PTF1"><text x="111" y="149">PTF1</text></g>
<g id="b-bHLH-2"><text x="141" y="155">bHLH</text></g>
<g id="b-OFT"><text x="75" y="173">OFT</text></g>
<g id="b-JIH"><text x="83" y="195">JIH</text></g>
<g id="b-ACO4"><text x="55" y="210">ACO4</text></g>
<g id="b-MAX1"><text x="117" y="211">MAX1</text></g>
<g id="b-SAUR31"><text x="73" y="225">SAUR31</text></g>
<g id="b-GH36"><text x="107" y="233">GH3.6</text></g>
<g id="b-SAUR71"><text x="133" y="244">SAUR71</text></g>
<g id="b-GA3OX1-1"><text x="80" y="251">GA3OX1</text></g>
<g id="b-F3H"><use href="#hex" class="b" transform="translate(477 250) scale(18)"/><text x="477" y="253">F3H</text></g>
<g id="b-F6H2"><text x="444" y="258">F6'H2</text></g>
<g id="b-KIN2-1"><use href="#tri" class="b" transform="translate(387 266) scale(5)"/><text x="387" y="269">KIN2</text></g>
<g id="b-HCT-1"><use href="#hex" class="r" transform="translate(425 282) scale(9)"/><text x="425" y="285">HCT</text></g>
<g id="b-UFGT-1"><text x="455" y="290">UFGT</text></g>
<g id="b-OMT1"><use href="#hex" class="b" transform="translate(485 287) scale(5)"/><text x="485" y="290">OMT1</text></g>
<g id="b-LRRPK-2"><text x="387" y="297">LRRPK</text></g>
<g id="b-UFGT-2"><use href="#hex" class="r" transform="translate(431 303) scale(14)"/><text x="431" y="306">UFGT</text></g>
<g id="b-HCT-2"><text x="462" y="319">HCT</text></g>
<g id="b-CRK8"><use href="#tri" class="r" transform="translate(396 323) scale(12)"/><text x="396" y="326">CRK8</text></g>
<g id="b-CHS-1"><use href="#hex" class="p" transform="translate(438 330) scale(12)"/><text x="438" y="333">CHS</text></g>
<g id="b-NLP6"><circle class="r" cx="322" cy="292" r="10"/><text x="322" y="295">NLP6</text></g>
<g id="b-RR17"><circle class="p" cx="228" cy="318" r="4"/><text x="228" y="321">RR17</text></g>
<g id="b-AT1G51200"><circle class="b" cx="273" cy="340" r="15"/><text x="273" y="343">AT1G51200</text></g>
<g id="b-MYB9"><text x="308" y="331">MYB9</text></g>
<g id="b-JAZ8-2"><circle class="p" cx="345" cy="333" r="5"/><text x="345" y="336">JAZ8</text></g>
<g id="b-NLP7-2"><text x="212" y="352">NLP7</text></g>
<g id="b-MYB62"><circle class="p" cx="335" cy="364" r="3"/><text x="335" y="367">MYB62</text></g>
<g id="b-SPT"><circle class="p" cx="243" cy="370" r="3"/><text x="243" y="373">SPT</text></g>
<g id="b-RAV2"><circle class="p" cx="308" cy="377" r="5"/><text x="308" y="380">RAV2</text></g>
<g id="b-HSFB3"><text x="216" y="382">HSFB3</text></g>
<g id="b-VRN1"><text x="265" y="385">VRN1</text></g>
<g id="b-HB21"><text x="253" y="401">HB21</text></g>
<g id="b-NLP7-3"><circle class="r" cx="283" cy="413" r="9"/><text x="283" y="416">NLP7</text></g>
<g id="b-ERF1-1"><text x="196" y="420">ERF1</text></g>
<g id="b-GA3OX1-2"><text x="167" y="430">GA3OX1</text></g>
<g id="b-ERF1-2"><text x="215" y="439">ERF1</text></g>
<g id="b-GAST1"><use href="#dia" class="p" transform="translate(191 452) scale(8)"/><text x="191" y="455">GAST1</text></g>
<g id="b-F35H-1"><use href="#hex" class="p" transform="translate(483 405) scale(6)"/><text x="483" y="408">F3'5'H</text></g>
<g id="b-CHS-2"><use href="#hex" class="r" transform="translate(505 400) scale(11)"/><text x="505" y="403">CHS</text></g>
<g id="b-F35H-2"><text x="483" y="427">F3'5'H</text></g>
<g id="b-CCR"><use href="#hex" class="p" transform="translate(515 418) scale(10)"/><text x="515" y="421">CCR</text></g>
<g id="b-CHI-1"><use href="#hex" class="p" transform="translate(517 440) scale(8)"/><text x="517" y="443">CHI</text></g>
<g id="b-CCOMT"><use href="#hex" class="p" transform="translate(488 446) scale(12)"/><text x="488" y="449">CCOMT</text></g>
<g id="b-F5H"><use href="#hex" class="r" transform="translate(507 467) scale(12)"/><text x="507" y="470">F5H</text></g>
<g id="b-AT3G14880"><circle class="p" cx="475" cy="502" r="8"/><text x="475" y="505">AT3G14880</text></g>
<g id="b-TT8"><circle class="p" cx="435" cy="519" r="6"/><text x="435" y="522">TT8</text></g>
<g id="b-PKDM7D"><text x="500" y="521">PKDM7D</text></g>
<g id="b-SET1"><circle class="r" cx="469" cy="539" r="20"/><text x="469" y="542">SET1</text></g>
<g id="b-CERK1-1"><use href="#tri" class="b" transform="translate(552 509) scale(10)"/><text x="552" y="512">CERK1</text></g>
<g id="b-KIN2-2"><use href="#tri" class="b" transform="translate(585 517) scale(8)"/><text x="585" y="520">KIN2</text></g>
<g id="b-LRRPK-3"><text x="533" y="531">LRRPK</text></g>
<g id="b-WD40-1"><text x="570" y="533">WD40</text></g>
<g id="b-WD40-2"><use href="#tri" class="p" transform="translate(580 547) scale(7)"/><text x="580" y="550">WD40</text></g>
<g id="b-CERK1-2"><use href="#tri" class="b" transform="translate(545 555) scale(30)"/><text x="545" y="558">CERK1</text></g>
<g id="b-SAUR66"><use href="#dia" class="b" transform="translate(618 545) scale(15)"/><text x="618" y="548">SAUR66</text></g>
<g id="b-AT1G04830"><circle class="p" cx="597" cy="567" r="4"/><text x="597" y="570">AT1G04830</text></g>
<g id="b-CHS-3"><use href="#hex" class="r" transform="translate(645 271) scale(13)"/><text x="645" y="274">CHS</text></g>
<g id="b-UFGT-3"><use href="#hex" class="r" transform="translate(672 282) scale(13)"/><text x="672" y="285">UFGT</text></g>
<g id="b-CHS-4"><circle class="p" cx="630" cy="295" r="5"/><text x="630" y="298">CHS</text></g>
<g id="b-SRG1"><circle class="b" cx="650" cy="297" r="4"/><text x="650" y="300">SRG1</text></g>
<g id="b-UFGT-4"><circle class="p" cx="680" cy="308" r="6"/><text x="680" y="311">UFGT</text></g>
<g id="b-MYB3"><circle class="r" cx="715" cy="302" r="13"/><text x="715" y="305">MYB3</text></g>
<g id="b-CHI-2"><use href="#hex" class="r" transform="translate(630 320) scale(11)"/><text x="630" y="323">CHI</text></g>
<g id="b-LDOX-2"><circle class="p" cx="655" cy="325" r="6"/><text x="655" y="328">LDOX</text></g>
<g id="b-ERFAP2"><circle class="r" cx="741" cy="319" r="11"/><text x="741" y="322">ERF/AP2</text></g>
<g id="b-OFP8"><circle class="p" cx="705" cy="342" r="6"/><text x="705" y="345">OFP8</text></g>
<g id="b-AT5G14540"><circle class="b" cx="750" cy="339" r="3"/><text x="750" y="342">AT5G14540</text></g>
<g id="b-CAM5"><use href="#tri" class="b" transform="translate(623 352) scale(5)"/><text x="623" y="355">CAM5</text></g>
<g id="b-AT1G70250"><use href="#tri" class="b" transform="translate(672 354) scale(20)"/><text x="672" y="357">AT1G70250</text></g>
<g id="b-MAC5A"><text x="730" y="359">MAC5A</text></g>
<g id="b-GA3"><use href="#dia" class="b" transform="translate(812 356) scale(5)"/><text x="812" y="359">GA3</text></g>
<g id="b-GRP-1"><circle class="p" cx="790" cy="366" r="4"/><text x="790" y="369">GRP</text></g>
<g id="b-ARM"><circle class="p" cx="810" cy="376" r="5"/><text x="810" y="379">ARM</text></g>
<g id="b-AT5G67385"><use href="#tri" class="b" transform="translate(638 373) scale(28)"/><text x="638" y="376">AT5G67385</text></g>
<g id="b-ELF4"><circle class="p" cx="692" cy="379" r="5"/><text x="692" y="382">ELF4</text></g>
<g id="b-WAK3"><text x="722" y="389">WAK3</text></g>
<g id="b-GRP-2"><circle class="p" cx="788" cy="387" r="4"/><text x="788" y="390">GRP</text></g>
<g id="b-LRRPK-4"><use href="#tri" class="r" transform="translate(665 393) scale(20)"/><text x="665" y="396">LRRPK</text></g>
<g id="b-ELIP"><use href="#tri" class="r" transform="translate(708 406) scale(24)"/><text x="708" y="409">ELIP</text></g>
<g id="b-OPR2"><use href="#dia" class="r" transform="translate(774 410) scale(30)"/><text x="774" y="413">OPR2</text></g>
<g id="b-AT1G02080"><circle class="b" cx="807" cy="110" r="4"/><text x="807" y="113">AT1G02080</text></g>
<g id="b-CBP"><circle class="p" cx="753" cy="120" r="5"/><text x="753" y="123">CBP</text></g>
<g id="b-AT3G11280"><circle class="b" cx="837" cy="122" r="5"/><text x="837" y="125">AT3G11280</text></g>
<g id="b-AT5G47430"><circle class="b" cx="873" cy="132" r="4"/><text x="873" y="135">AT5G47430</text></g>
<g id="b-EXO-1"><use href="#tri" class="r" transform="translate(738 144) scale(16)"/><text x="738" y="146">EXO</text></g>
<g id="b-EXO-2"><circle class="p" cx="782" cy="143" r="5"/><text x="782" y="146">EXO</text></g>
<g id="b-RR2"><text x="810" y="151">RR2</text></g>
<g id="b-AT1G70150"><circle class="b" cx="887" cy="148" r="7"/><text x="887" y="151">AT1G70150</text></g>
<g id="b-MYB12"><circle class="p" cx="828" cy="158" r="8"/><text x="828" y="161">MYB12</text></g>
<g id="b-EXO-3"><use href="#tri" class="r" transform="translate(718 164) scale(14)"/><text x="717" y="166">EXO</text></g>
<g id="b-EXO-4"><use href="#tri" class="r" transform="translate(758 163) scale(22)"/><text x="758" y="165">EXO</text></g>
<g id="b-GATA26"><circle class="b" cx="893" cy="166" r="7"/><text x="893" y="169">GATA26</text></g>
<g id="b-WRKY65"><circle class="b" cx="857" cy="172" r="4"/><text x="857" y="175">WRKY65</text></g>
<g id="b-GH31"><use href="#dia" class="b" transform="translate(886 212) scale(18)"/><text x="884" y="215">GH3.1</text></g>
<g id="b-BI2"><text x="915" y="213">BI2</text></g>
<g id="b-AT1G10810"><text x="903" y="234">AT1G10810</text></g>
<g id="b-AT1G55960"><circle class="p" cx="910" cy="273" r="5"/><text x="910" y="276">AT1G55960</text></g>
<g id="b-PAL2"><use href="#hex" class="r" transform="translate(908 291) scale(14)"/><text x="908" y="294">PAL2</text></g>
<g id="b-KaFeRhHex"><use href="#sq" class="m" transform="translate(237 227) scale(22)"/><text x="237" y="230">Ka-Fe-Rh-Hex</text></g>
<g id="b-DkFe2Hex"><use href="#sq" class="m" transform="translate(290 213) scale(20)"/><text x="290" y="216">Dk-Fe-2Hex</text></g>
<g id="b-PgRh2Hex"><use href="#sq" class="m" transform="translate(333 203) scale(19)"/><text x="333" y="206">Pg-Rh-2Hex</text></g>
<g id="b-ApFeRhHex"><use href="#sq" class="p" transform="translate(196 249) scale(12)"/><text x="195" y="251">Ap-Fe-Rh-Hex</text></g>
<g id="b-KaRh2Hex"><use href="#sq" class="m" transform="translate(274 253) scale(14)"/><text x="274" y="256">Ka-Rh-2Hex</text></g>
<g id="b-ApRhHex"><use href="#sq" class="m" transform="translate(364 409) scale(20)"/><text x="364" y="412">Ap-Rh-Hex</text></g>
<g id="b-PgFeRh2Hex"><use href="#sq" class="m" transform="translate(422 419) scale(35)"/><text x="422" y="422">Pg-Fe-Rh-2Hex</text></g>
<g id="b-KaRhHex"><use href="#sq" class="m" transform="translate(333 433) scale(23)"/><text x="333" y="436">Ka-Rh-Hex</text></g>
<g id="b-ApCoRhHex"><use href="#sq" class="m" transform="translate(380 451) scale(22)"/><text x="380" y="454">Ap-Co-Rh-Hex</text></g>
<g id="b-DkHex"><use href="#sq" class="m" transform="translate(301 463) scale(24)"/><text x="301" y="466">Dk-Hex</text></g>
<g id="b-ApCoRh2Hex"><use href="#sq" class="m" transform="translate(426 470) scale(35)"/><text x="426" y="473">Ap-Co-Rh-2Hex</text></g>
<g id="b-Dk"><use href="#sq" class="m" transform="translate(315 500) scale(28)"/><text x="315" y="503">Dk</text></g>
<g id="b-PgCoRh2Hex"><use href="#sq" class="m" transform="translate(369 494) scale(40)"/><text x="369" y="497">Pg-Co-Rh-2Hex</text></g>
<g id="b-PnCoRh2Hex"><use href="#sq" class="m" transform="translate(572 364) scale(39)"/><text x="572" y="367">Pn-Co-Rh-2Hex</text></g>
<g id="b-PcCaRh2Hex-I"><use href="#sq" class="m" transform="translate(557 401) scale(23)"/><text x="557" y="399">Pc-Ca-Rh-2Hex</text><text x="557" y="411">(I)</text></g>
<g id="b-PcCaRh2Hex-II"><use href="#sq" class="m" transform="translate(559 432) scale(24)"/><text x="559" y="428">Pc-Ca-Rh-2Hex</text><text x="559" y="441">(II)</text></g>
<g id="b-PnFeRh2Hex"><use href="#sq" class="m" transform="translate(613 409) scale(28)"/><text x="613" y="412">Pn-Fe-Rh-2Hex</text></g>
<g id="b-PtCoRh2Hex"><use href="#sq" class="m" transform="translate(600 468) scale(53)"/><text x="600" y="471">Pt-Co-Rh-2Hex</text></g>
<g id="b-PnCaRh2Hex-II"><use href="#sq" class="m" transform="translate(662 448) scale(47)"/><text x="662" y="443">Pn-Ca-Rh-2Hex</text><text x="662" y="456">(II)</text></g>
<g id="b-MvCoRh2Hex"><use href="#sq" class="m" transform="translate(670 496) scale(33)"/><text x="670" y="499">Mv-Co-Rh-2Hex</text></g>
<g id="b-DpCoRh2Hex"><use href="#sq" class="m" transform="translate(693 224) scale(12)"/><text x="692" y="227">Dp-Co-Rh-2Hex</text></g>
<g id="b-PtFeRh2Hex"><use href="#sq" class="m" transform="translate(737 253) scale(53)"/><text x="737" y="256">Pt-Fe-Rh-2Hex</text></g>
<g id="b-PtCaRh2Hex"><use href="#sq" class="m" transform="translate(799 234) scale(43)"/><text x="799" y="237">Pt-Ca-Rh-2Hex</text></g>
<g id="b-PnCaRh2Hex-I"><use href="#sq" class="m" transform="translate(814 289) scale(44)"/><text x="814" y="286">Pn-Ca-Rh-2Hex</text><text x="814" y="299">(I)</text></g>
</g>

<g id="labels">
<text class="ti" x="12" y="30">A) Hongyoung</text>
<text class="cl" x="15" y="162">Cluster I</text>
<text class="cl" x="105" y="385">Cluster II</text>
<text class="cl" x="485" y="593">Cluster III</text>
<text class="cl" x="797" y="426">Cluster IV</text>
<text class="cl" x="875" y="202" textLength="88" lengthAdjust="spacingAndGlyphs">Cluster V</text>
<text class="gr" x="360" y="200">Group A</text>
<text class="gr" x="260" y="551">Group B</text>
<text class="gr" x="685" y="512">Group C</text>
<text class="gr" x="620" y="211">Group D</text>
<text class="ti" x="15" y="654">B) Jayoung</text>
<text class="cl" x="78" y="703">Cluster I</text>
<text class="cl" x="47" y="1032">Cluster II</text>
<text class="cl" x="455" y="1237">Cluster III</text>
<text class="cl" x="767" y="1058">Cluster IV</text>
<text class="cl" x="873" y="823" textLength="88" lengthAdjust="spacingAndGlyphs">Cluster V</text>
<text class="gr" x="345" y="826">Group A</text>
<text class="gr" x="223" y="1175">Group B</text>
<text class="gr" x="647" y="1167">Group C</text>
<text class="gr" x="583" y="843">Group D</text>
</g>

<g id="legend-size">
<polygon points="803,1143 855,1163 803,1163" fill="#a9dcef"/>
<polygon points="907,1143 907,1163 855,1163" fill="#a9dcef"/>
<rect x="803" y="1143" width="104" height="20" fill="none" stroke="#9a9a9a" stroke-width=".7"/>
<line x1="909" y1="1163" x2="909" y2="1145" stroke="#111" stroke-width="1.2" marker-end="url(#arr)"/>
<text class="ls" x="912" y="1144">100</text>
<text class="ls" x="912" y="1156">Node Size</text>
<text class="ls" x="913" y="1166">0</text>
<text class="ls" x="807" y="1174" text-anchor="middle">-12</text>
<text class="ls" x="855" y="1174" text-anchor="middle">0</text>
<text class="ls" x="904" y="1174" text-anchor="middle">12</text>
<text class="ls" x="849" y="1185" text-anchor="middle">Log<tspan font-size="6" dy="2">2</tspan><tspan dy="-2"> [fold change]</tspan></text>
</g>
<g id="legend-color">
<rect x="803" y="1202" width="115" height="18" fill="url(#cbar)"/>
<text class="ls" x="807" y="1230" text-anchor="middle">-12</text>
<text class="ls" x="843" y="1230" text-anchor="middle">-4</text>
<text class="ls" x="859" y="1230" text-anchor="middle">0</text>
<text class="ls" x="874" y="1230" text-anchor="middle">4</text>
<text class="ls" x="915" y="1230" text-anchor="middle">12</text>
<text class="ls" x="860" y="1242" text-anchor="middle">Log<tspan font-size="6" dy="2">2</tspan><tspan dy="-2"> [fold change]</tspan></text>
</g>
<g id="legend-shapes">
<rect x="131" y="1277" width="24" height="24" rx="4" fill="none" stroke="#111" stroke-width="1.6"/>
<text class="lg" x="162" y="1294" textLength="70" lengthAdjust="spacingAndGlyphs">Metabolites</text>
<polygon points="262,1277 274,1289 262,1301 250,1289" fill="none" stroke="#111" stroke-width="1.6"/>
<text class="lg" x="276" y="1294" textLength="139" lengthAdjust="spacingAndGlyphs">Hormone-related genes</text>
<circle cx="445" cy="1289" r="13" fill="none" stroke="#111" stroke-width="1.6"/>
<text class="lg" x="462" y="1294" textLength="101" lengthAdjust="spacingAndGlyphs">TF-related genes</text>
<polygon points="589,1277 601,1301 577,1301" fill="none" stroke="#111" stroke-width="1.6"/>
<text class="lg" x="604" y="1294" textLength="139" lengthAdjust="spacingAndGlyphs">Signaling-related genes</text>
<polygon points="131,1326 137,1315 149,1315 155,1326 149,1337 137,1337" fill="none" stroke="#111" stroke-width="1.6"/>
<text class="lg" x="162" y="1332" textLength="238" lengthAdjust="spacingAndGlyphs">Anthocyanin biosynthesis-related genes</text>
<line x1="437" y1="1328" x2="456" y2="1328" stroke="#111" stroke-width="3"/>
<text class="lg" x="466" y="1332" font-weight="bold" textLength="277" lengthAdjust="spacingAndGlyphs">High correlation between metabolite and gene</text>
</g>
</svg>
